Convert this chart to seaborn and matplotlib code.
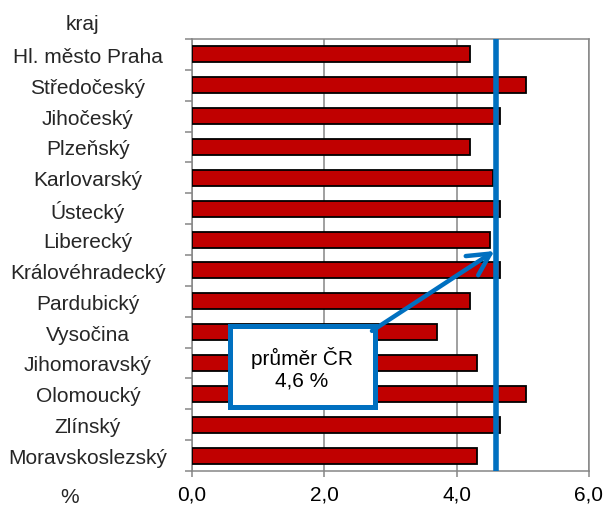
import matplotlib
matplotlib.use("Agg")
import matplotlib.pyplot as plt
import matplotlib.patches as mpatches
from matplotlib.ticker import FixedLocator, FuncFormatter
import seaborn as sns
import pandas as pd

kraje = ["Hl. město Praha", "Středočeský", "Jihočeský", "Plzeňský", "Karlovarský",
         "Ústecký", "Liberecký", "Královéhradecký", "Pardubický", "Vysočina",
         "Jihomoravský", "Olomoucký", "Zlínský", "Moravskoslezský"]
hodnoty = [4.2, 5.05, 4.65, 4.2, 4.55, 4.65, 4.5, 4.65, 4.2, 3.7, 4.3, 5.05, 4.65, 4.3]
prumer_cr = 4.6
x_ticks = [0, 2, 4, 6]
popisek_prumer = "průměr ČR\n4,6 %"

sns.set_theme(style="white")
plt.rcParams['font.family'] = ['Liberation Sans', 'DejaVu Sans']
FS = 15

df = pd.DataFrame({"kraj": kraje, "hodnota": hodnoty})

fig = plt.figure(figsize=(6.07, 5.10), dpi=100)
ax = fig.add_axes([192 / 607, 1 - 472 / 510, (589 - 192) / 607, (472 - 40) / 510])

sns.barplot(data=df, x="hodnota", y="kraj", orient="h", color="#C00000",
            saturation=1, edgecolor="black", linewidth=1.3, width=0.52, ax=ax, zorder=3)

gray = "#868686"
ax.set_xlim(0, 6)
ax.set_ylim(len(kraje) - 0.5, -0.5)
ax.xaxis.set_major_locator(FixedLocator(x_ticks))
ax.xaxis.set_major_formatter(FuncFormatter(lambda v, p: f"{v:.1f}".replace(".", ",")))
ax.grid(axis="x", color=gray, linewidth=1.1, zorder=0)
ax.grid(axis="y", visible=False)
for s in ax.spines.values():
    s.set_visible(True)
    s.set_color(gray)
    s.set_linewidth(1.1)

ax.set_xlabel("")
ax.set_ylabel("")
ax.tick_params(axis="x", which="major", direction="out", length=4, width=1.1,
               color=gray, labelsize=FS, pad=6, bottom=True)
ax.tick_params(axis="y", which="major", length=0, labelsize=FS, pad=75, left=True)
ax.yaxis.set_minor_locator(FixedLocator([i - 0.5 for i in range(len(kraje) + 1)]))
ax.tick_params(axis="y", which="minor", direction="out", length=5, width=1.1,
               color=gray, left=True)
for lab in ax.get_yticklabels():
    lab.set_ha("center")
for lab in ax.get_xticklabels():
    lab.set_color("black")

ax.axvline(prumer_cr, color="#0070C0", linewidth=4, zorder=4)

# annotation box + arrow
rect = mpatches.Rectangle((0.57, 8.80), 2.19, 2.63, facecolor="white",
                          edgecolor="#0070C0", linewidth=3.6, zorder=5)
ax.add_patch(rect)
ax.text(1.66, 10.15, popisek_prumer, ha="center", va="center", fontsize=FS,
        color="black", zorder=6, linespacing=1.15)
ax.annotate("", xy=(4.57, 6.37), xytext=(2.72, 8.96),
            arrowprops=dict(arrowstyle="->,head_length=0.79,head_width=0.41",
                            color="#0070C0", linewidth=3.2, mutation_scale=20,
                            shrinkA=0, shrinkB=0, capstyle="round"),
            zorder=6)

fig.text(82 / 607, 1 - 24 / 510, "kraj", ha="center", va="center", fontsize=FS)
fig.text(70 / 607, 1 - 498 / 510, "%", ha="center", va="center", fontsize=FS)

fig.savefig("out.png", dpi=100, facecolor="white")
